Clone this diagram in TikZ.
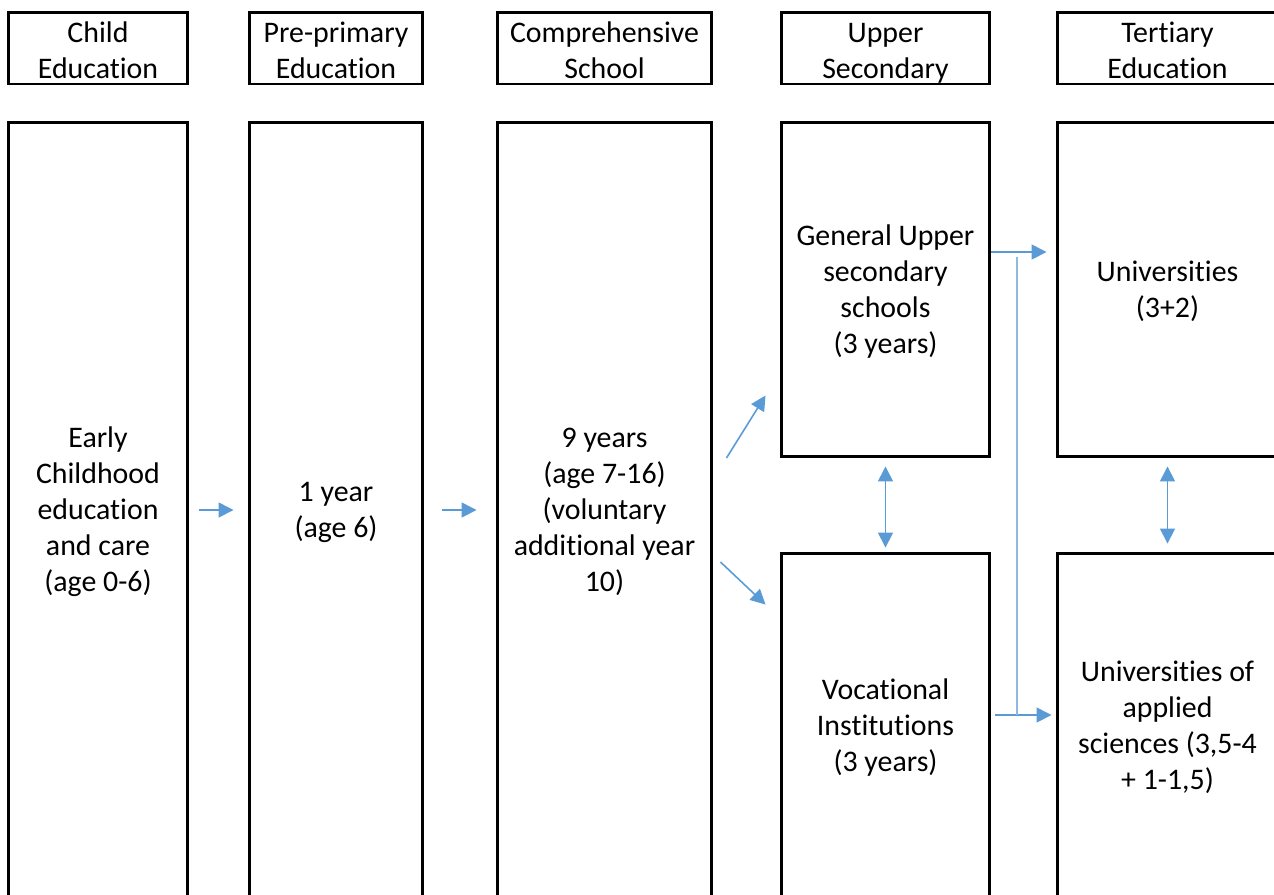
\documentclass[tikz,border=0pt]{standalone}
\usepackage{fontspec}
\setmainfont{Carlito}[Ligatures=NoCommon]
\usetikzlibrary{arrows.meta}
\definecolor{arrowblue}{HTML}{5B9BD5}
\definecolor{lineblue}{HTML}{8FB8E3}
\begin{document}
\begin{tikzpicture}[x=0.02cm, y=-0.02cm,
  box/.style={draw, line width=1.7pt, rectangle, inner sep=0pt, align=center,
    text depth=0.5pt, font=\fontsize{17pt}{20.5pt}\selectfont},
  head/.style={box, minimum height=1.44cm, text height=35pt, text depth=0pt},
  tall/.style={box, minimum height=15.52cm},
  upper/.style={box, minimum height=6.7cm},
  lower/.style={box, minimum height=6.9cm},
  flow/.style={draw=arrowblue, line width=0.9pt, -{Triangle[length=8.5pt,width=8.5pt]}},
  both/.style={flow, {Triangle[length=8.5pt,width=8.5pt]}-{Triangle[length=8.5pt,width=8.5pt]}},
  feed/.style={draw=lineblue, line width=0.9pt}]
\clip (0,0) rectangle (1274,894);
\node[head, minimum width=3.6cm] (hdchild) at (98,48) {Child\\Education};
\node[head, minimum width=3.48cm] (hdpre) at (336,48) {Pre-primary\\Education};
\node[head, minimum width=4.3cm] (hdcomp) at (604.5,48) {Comprehensive\\School};
\node[head, minimum width=4.18cm] (hdupper) at (885.5,48) {Upper\\Secondary};
\node[head, minimum width=4.42cm] (hdtert) at (1167.5,48) {Tertiary\\Education};
\node[tall, minimum width=3.6cm] (child) at (98,510) {Early\\Childhood\\education\\and care\\(age 0-6)};
\node[tall, minimum width=3.48cm] (pre) at (336,510) {1 year\\(age 6)};
\node[tall, minimum width=4.3cm] (comp) at (604.5,510) {9 years\\(age 7-16)\\(voluntary\\additional year\\10)};
\node[upper, minimum width=4.18cm] (general) at (885.5,289.5) {General Upper\\secondary\\schools\\(3 years)};
\node[lower, minimum width=4.18cm] (vocational) at (885.5,725.5) {Vocational\\Institutions\\(3 years)};
\node[upper, minimum width=4.42cm] (univ) at (1167.5,289.5) {Universities\\(3+2)};
\node[lower, minimum width=4.42cm] (applied) at (1167.5,725.5) {Universities of\\applied\\sciences (3,5-4\\+ 1-1,5)};
\coordinate (uplevel) at (0,252);
\coordinate (lowlevel) at (0,715);
\coordinate (forktop) at (1017,257);
\coordinate (forkbot) at (1017,715);
\draw[flow, shorten <=0.2cm, shorten >=0.28cm] (child) -- (pre);
\draw[flow, shorten <=0.36cm, shorten >=0.38cm] (pre) -- (comp);
\draw[flow] ([shift={(13,-52)}]comp.east) -- ([shift={(-14,-63)}]vocational.north west |- general.south);
\draw[flow] ([shift={(7,52)}]comp.east) -- ([shift={(-14,53)}]vocational.north west);
\draw[both, shorten <=0.16cm, shorten >=0.08cm] (general.south) -- (vocational.north);
\draw[both, shorten <=0.16cm, shorten >=0.16cm] (univ.south) -- (applied.north);
\draw[flow, shorten >=0.18cm] (general.east |- uplevel) -- (univ.west |- uplevel);
\draw[flow, shorten <=0.08cm, shorten >=0.08cm] (vocational.east |- lowlevel) -- (applied.west |- lowlevel);
\draw[feed] (forkbot) -- (forktop);
\end{tikzpicture}
\end{document}
